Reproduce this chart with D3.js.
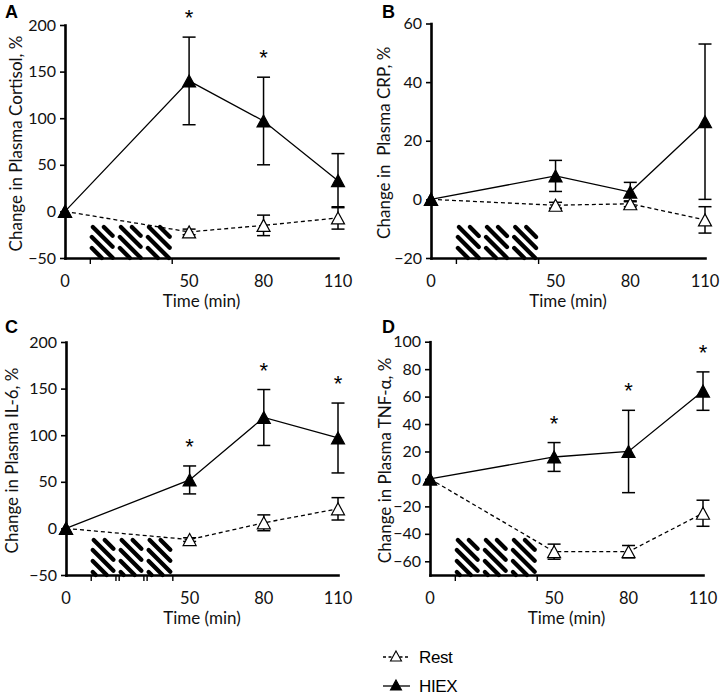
<!DOCTYPE html>
<html><head><meta charset="utf-8">
<script src="https://cdn.jsdelivr.net/npm/d3@7"></script>
<style>body{margin:0;background:#fff}</style>
</head><body><svg id="c" width="720" height="696"></svg>
<script>
// ---------- data ----------
const times = [0, 50, 80, 110];
const timeLabels = ["0", "50", "80", "110"];
const exerciseBouts = [[10, 20], [21.3, 31.3], [32.6, 43]];
const xTicksSimple = [10, 43];
const xTicksBouts = [10, 20, 21.3, 31.3, 32.6, 43];

const cortisolHiex = [0, 140, 97, 33];
const cortisolHiexErr = [0, 47, 47, 29];
const cortisolRest = [0, -22, -15, -7];
const cortisolRestErr = [0, 3, 11, 12];
const cortisolSig = [false, true, true, false];
const cortisolTicks = [-50, 0, 50, 100, 150, 200];

const crpHiex = [0, 8, 2.5, 26.5];
const crpHiexErr = [0, 5.3, 3.3, 26.5];
const crpRest = [0, -2, -1.5, -7];
const crpRestErr = [0, 1, 1, 4.5];
const crpSig = [false, false, false, false];
const crpTicks = [-20, 0, 20, 40, 60];

const il6Hiex = [0, 52, 119, 97];
const il6HiexErr = [0, 15, 30, 37.5];
const il6Rest = [0, -12, 6, 21];
const il6RestErr = [0, 2, 8.5, 12];
const il6Sig = [false, true, true, true];
const il6Ticks = [-50, 0, 50, 100, 150, 200];

const tnfHiex = [0, 16, 20, 64];
const tnfHiexErr = [0, 10.5, 30, 14];
const tnfRest = [0, -53, -53, -25];
const tnfRestErr = [0, 5.5, 4.5, 9.5];
const tnfSig = [false, true, true, true];
const tnfTicks = [-60, -40, -20, 0, 20, 40, 60, 80, 100];

const seriesNames = ["Rest", "HIEX"];

// ---------- layout ----------
const panels = [
  {letter: "A", lx: 5, ly: 18, title: "Change in Plasma Cortisol, %", tx: 15,
   hiex: cortisolHiex, hiexErr: cortisolHiexErr, rest: cortisolRest, restErr: cortisolRestErr, sig: cortisolSig,
   yDomain: [-50, 200], yTicks: cortisolTicks, xr: [65, 338], yr: [258, 25], hatchH: 33, xTicks: xTicksSimple},
  {letter: "B", lx: 382, ly: 18, title: "Change in  Plasma CRP, %", tx: 383,
   hiex: crpHiex, hiexErr: crpHiexErr, rest: crpRest, restErr: crpRestErr, sig: crpSig,
   yDomain: [-20, 60], yTicks: crpTicks, xr: [431, 705], yr: [258, 23.5], hatchH: 33, xTicks: xTicksSimple},
  {letter: "C", lx: 5, ly: 333, title: "Change in Plasma IL-6, %", tx: 11,
   hiex: il6Hiex, hiexErr: il6HiexErr, rest: il6Rest, restErr: il6RestErr, sig: il6Sig,
   yDomain: [-50, 200], yTicks: il6Ticks, xr: [66, 338], yr: [575, 342], hatchH: 37, xTicks: xTicksBouts},
  {letter: "D", lx: 382, ly: 333, title: "Change in Plasma TNF-\u03B1, %", tx: 384,
   hiex: tnfHiex, hiexErr: tnfHiexErr, rest: tnfRest, restErr: tnfRestErr, sig: tnfSig,
   yDomain: [-70, 100], yTicks: tnfTicks, xr: [430, 703], yr: [575, 341.7], hatchH: 37, xTicks: xTicksSimple}
];

const svg = d3.select("#c");
svg.append("rect").attr("width", 720).attr("height", 696).attr("fill", "#fff");
const FONT = "Lato, 'Open Sans', sans-serif";
const triPath = (w, h) => `M0,${-h/2}L${w/2},${h/2}L${-w/2},${h/2}Z`;

panels.forEach((p, pi) => {
  const g = svg.append("g");
  const x = d3.scaleLinear().domain([0, 110]).range(p.xr);
  const y = d3.scaleLinear().domain(p.yDomain).range(p.yr);
  const y0 = p.yr[0];

  // hatch blocks: diagonal stripes with rounded ends inside each bout
  exerciseBouts.forEach(b => {
    const r = 2;
    const xa = x(b[0]) + r, xb = x(b[1]) - r;
    const top = y0 - p.hatchH + r, bot = y0;
    const H = bot - top;
    const sp = 11;
    for (let k = -6; k <= 4; k++) {
      const c = xa + 1 + k * sp;           // line: y = top + (x - c)
      const x1 = Math.max(c, xa), x2 = Math.min(c + H, xb);
      if (x2 - x1 < 1) continue;
      g.append("line").attr("x1", x1).attr("y1", top + x1 - c).attr("x2", x2).attr("y2", top + x2 - c)
        .attr("stroke", "#000").attr("stroke-width", 4.3).attr("stroke-linecap", "round");
    }
  });

  // axes
  const ya = g.append("g").attr("transform", `translate(${p.xr[0]},0)`)
    .call(d3.axisLeft(y).tickValues(p.yTicks).tickSize(5).tickSizeOuter(0).tickPadding(4));
  ya.select(".domain").attr("stroke-width", 2.6).attr("stroke-linecap", "square");
  ya.selectAll(".tick line").attr("stroke-width", 1.6);
  ya.selectAll(".tick text").attr("font-family", FONT).attr("font-size", 16).attr("fill", "#111");

  const xa = g.append("g").attr("transform", `translate(0,${y0})`)
    .call(d3.axisBottom(x).tickValues(p.xTicks).tickSize(6).tickSizeOuter(0).tickFormat(""));
  xa.select(".domain").attr("stroke-width", 2.6).attr("stroke-linecap", "square");
  xa.selectAll(".tick line").attr("stroke-width", 1.4);

  g.selectAll(".xl").data(times).join("text")
    .attr("x", d => x(d)).attr("y", y0 + 29).attr("text-anchor", "middle")
    .attr("font-family", FONT).attr("font-size", 16.5).attr("fill", "#111")
    .text((d, i) => timeLabels[i]);
  g.append("text").attr("x", (p.xr[0] + p.xr[1]) / 2).attr("y", y0 + 49).attr("text-anchor", "middle")
    .attr("font-family", FONT).attr("font-size", 17).attr("fill", "#111").text("Time (min)");

  // y title
  g.append("text").attr("transform", `translate(${p.tx},${(p.yr[0] + p.yr[1]) / 2 + 2}) rotate(-90)`)
    .attr("text-anchor", "middle").attr("dominant-baseline", "central")
    .attr("font-family", FONT).attr("font-size", 17).attr("fill", "#111")
    .style("white-space", "pre").text(p.title);

  // panel letter
  g.append("text").attr("x", p.lx).attr("y", p.ly).attr("font-family", "'Liberation Sans', Arial, sans-serif")
    .attr("font-weight", "bold").attr("font-size", 18).attr("fill", "#000").text(p.letter);

  // error bars
  const series = [
    {vals: p.rest, err: p.restErr, dash: "4,3", fill: "#fff"},
    {vals: p.hiex, err: p.hiexErr, dash: null, fill: "#000"}
  ];
  series.forEach(s => {
    times.forEach((t, i) => {
      if (!s.err[i]) return;
      const cx = x(t), yt = y(s.vals[i] + s.err[i]), yb = y(s.vals[i] - s.err[i]);
      g.append("line").attr("x1", cx).attr("x2", cx).attr("y1", yt).attr("y2", yb).attr("stroke", "#000").attr("stroke-width", 1.5);
      [yt, yb].forEach(yy => g.append("line").attr("x1", cx - 6.5).attr("x2", cx + 6.5).attr("y1", yy).attr("y2", yy)
        .attr("stroke", "#000").attr("stroke-width", 1.5));
    });
  });
  // lines
  const line = d3.line().x((d, i) => x(times[i])).y(d => y(d));
  series.forEach(s => {
    g.append("path").attr("d", line(s.vals)).attr("fill", "none").attr("stroke", "#000")
      .attr("stroke-width", 1.3).attr("stroke-dasharray", s.dash);
  });
  // markers
  series.forEach(s => {
    g.selectAll(null).data(s.vals).join("path")
      .attr("transform", (d, i) => `translate(${x(times[i])},${y(d)})`)
      .attr("d", triPath(13, 12)).attr("fill", s.fill).attr("stroke", "#000").attr("stroke-width", 1.2);
  });
  // asterisks
  times.forEach((t, i) => {
    if (!p.sig[i]) return;
    const top = y(p.hiex[i] + p.hiexErr[i]);
    g.append("text").attr("x", x(t)).attr("y", top - 24 + 12).attr("text-anchor", "middle")
      .attr("font-family", "'Liberation Sans', Arial, sans-serif").attr("font-size", 22).attr("fill", "#000").text("*");
  });
});

// legend
const lg = svg.append("g");
const legendItems = [
  {name: seriesNames[0], y: 657, dash: "3,2.5", fill: "#fff"},
  {name: seriesNames[1], y: 686, dash: null, fill: "#000"}
];
legendItems.forEach(it => {
  lg.append("line").attr("x1", 383).attr("x2", 410).attr("y1", it.y).attr("y2", it.y)
    .attr("stroke", "#000").attr("stroke-width", 1.3).attr("stroke-dasharray", it.dash);
  lg.append("path").attr("transform", `translate(396,${it.y - 1})`).attr("d", triPath(11, 10))
    .attr("fill", it.fill).attr("stroke", "#000").attr("stroke-width", 1.1);
  lg.append("text").attr("x", 419).attr("y", it.y + 6).attr("font-family", "'Liberation Sans', Arial, sans-serif")
    .attr("font-size", 17).attr("letter-spacing", -0.4).attr("fill", "#000").text(it.name);
});
</script></body></html>
